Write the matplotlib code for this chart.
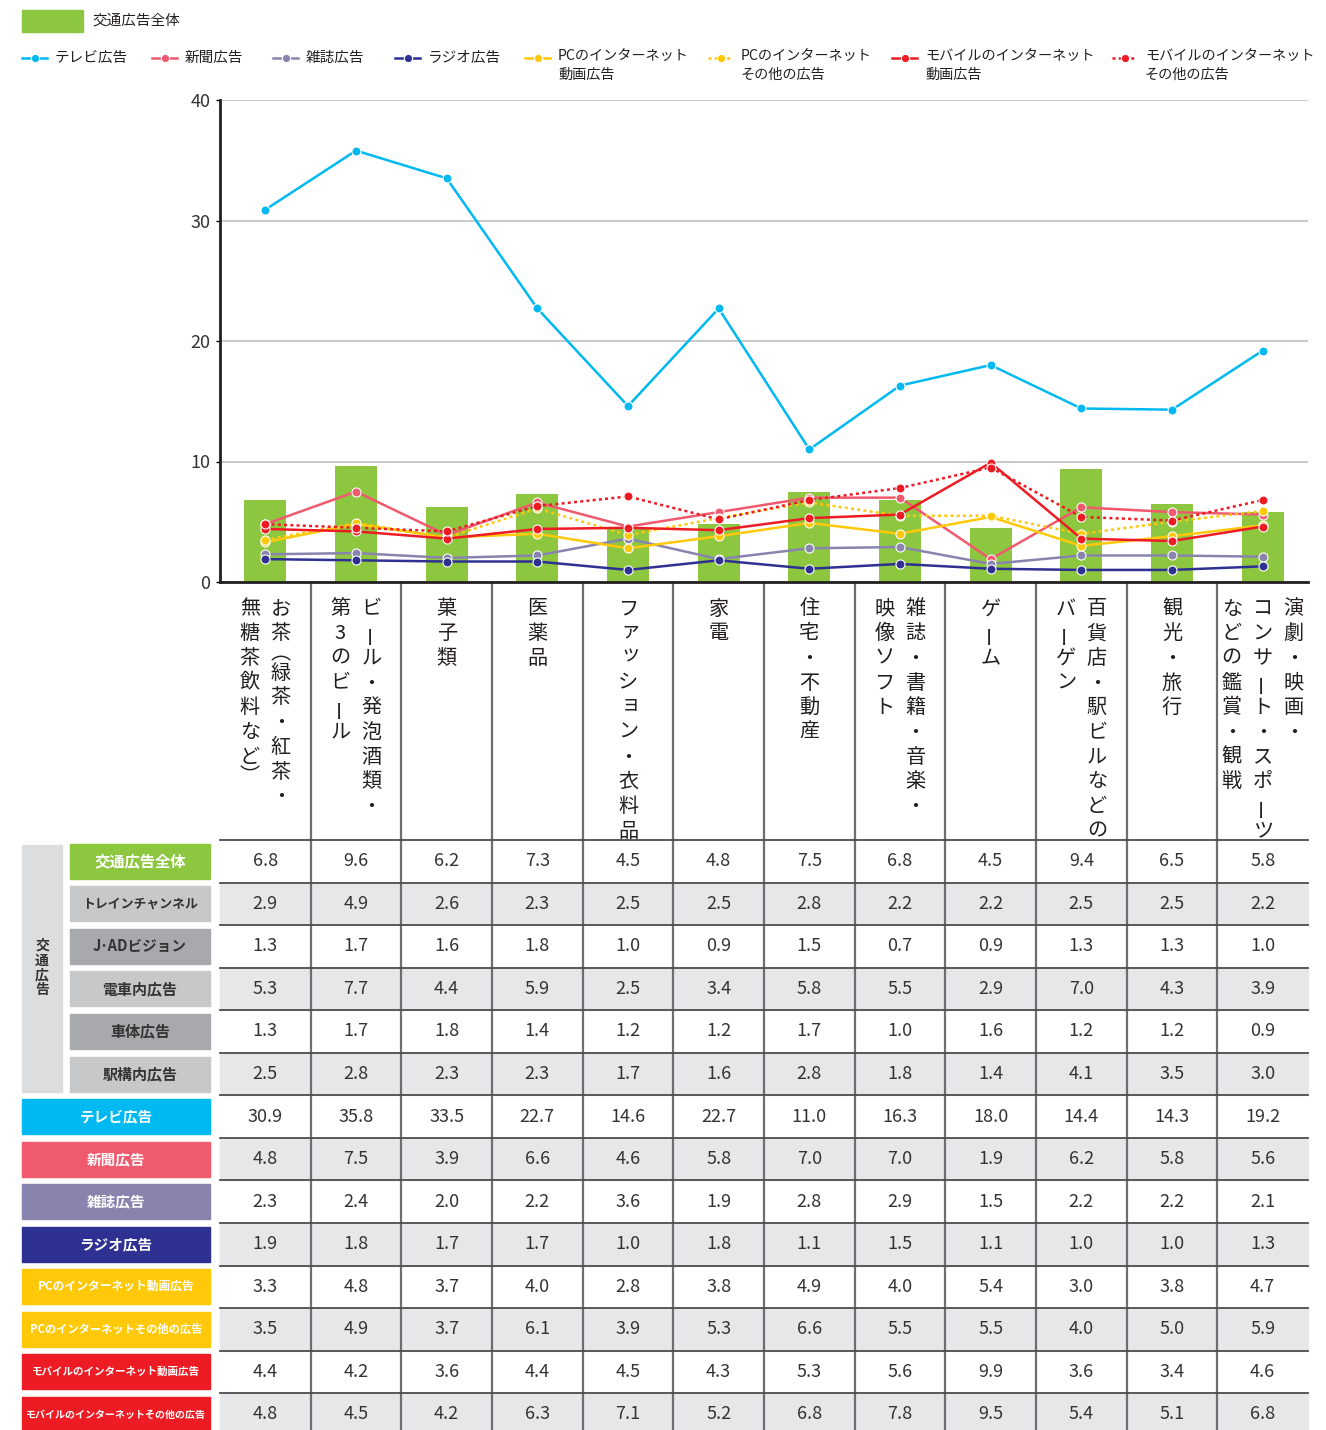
import matplotlib
matplotlib.use("Agg")
import matplotlib.pyplot as plt
import matplotlib.transforms as mtransforms
from matplotlib.lines import Line2D
from matplotlib.patches import Rectangle

plt.rcParams['font.family'] = ['Noto Sans CJK JP', 'DejaVu Sans']

W, H, DPI = 1326, 1430, 100

cat_labels = [
    ["お茶（緑茶・紅茶・", "無糖茶飲料など）"],
    ["ビール・発泡酒類・", "第3のビール"],
    ["菓子類"],
    ["医薬品"],
    ["ファッション・衣料品"],
    ["家電"],
    ["住宅・不動産"],
    ["雑誌・書籍・音楽・", "映像ソフト"],
    ["ゲーム"],
    ["百貨店・駅ビルなどの", "バーゲン"],
    ["観光・旅行"],
    ["演劇・映画・", "コンサート・スポーツ", "などの鑑賞・観戦"],
]

traffic_total = [6.8, 9.6, 6.2, 7.3, 4.5, 4.8, 7.5, 6.8, 4.5, 9.4, 6.5, 5.8]
train_channel = [2.9, 4.9, 2.6, 2.3, 2.5, 2.5, 2.8, 2.2, 2.2, 2.5, 2.5, 2.2]
jad_vision    = [1.3, 1.7, 1.6, 1.8, 1.0, 0.9, 1.5, 0.7, 0.9, 1.3, 1.3, 1.0]
in_train      = [5.3, 7.7, 4.4, 5.9, 2.5, 3.4, 5.8, 5.5, 2.9, 7.0, 4.3, 3.9]
car_body      = [1.3, 1.7, 1.8, 1.4, 1.2, 1.2, 1.7, 1.0, 1.6, 1.2, 1.2, 0.9]
in_station    = [2.5, 2.8, 2.3, 2.3, 1.7, 1.6, 2.8, 1.8, 1.4, 4.1, 3.5, 3.0]
tv            = [30.9, 35.8, 33.5, 22.7, 14.6, 22.7, 11.0, 16.3, 18.0, 14.4, 14.3, 19.2]
newspaper     = [4.8, 7.5, 3.9, 6.6, 4.6, 5.8, 7.0, 7.0, 1.9, 6.2, 5.8, 5.6]
magazine      = [2.3, 2.4, 2.0, 2.2, 3.6, 1.9, 2.8, 2.9, 1.5, 2.2, 2.2, 2.1]
radio         = [1.9, 1.8, 1.7, 1.7, 1.0, 1.8, 1.1, 1.5, 1.1, 1.0, 1.0, 1.3]
pc_video      = [3.3, 4.8, 3.7, 4.0, 2.8, 3.8, 4.9, 4.0, 5.4, 3.0, 3.8, 4.7]
pc_other      = [3.5, 4.9, 3.7, 6.1, 3.9, 5.3, 6.6, 5.5, 5.5, 4.0, 5.0, 5.9]
mobile_video  = [4.4, 4.2, 3.6, 4.4, 4.5, 4.3, 5.3, 5.6, 9.9, 3.6, 3.4, 4.6]
mobile_other  = [4.8, 4.5, 4.2, 6.3, 7.1, 5.2, 6.8, 7.8, 9.5, 5.4, 5.1, 6.8]

GREEN = '#8dc63f'
DOT = (0, (1.2, 1.3))

# name, values, color, linestyle
series = [
    ("テレビ広告", tv, '#00b9f1', '-'),
    ("新聞広告", newspaper, '#f05a6e', '-'),
    ("雑誌広告", magazine, '#8884ae', '-'),
    ("ラジオ広告", radio, '#2e3192', '-'),
    ("PCのインターネット動画広告", pc_video, '#ffc90a', '-'),
    ("PCのインターネットその他の広告", pc_other, '#ffc90a', DOT),
    ("モバイルのインターネット動画広告", mobile_video, '#ed1c24', '-'),
    ("モバイルのインターネットその他の広告", mobile_other, '#ed1c24', DOT),
]

table_rows = [
    ("交通広告全体", traffic_total),
    ("トレインチャンネル", train_channel),
    ("J･ADビジョン", jad_vision),
    ("電車内広告", in_train),
    ("車体広告", car_body),
    ("駅構内広告", in_station),
] + [(s[0], s[1]) for s in series]

box_colors = [GREEN, '#c7c8ca', '#a7a9ac', '#c7c8ca', '#a7a9ac', '#c7c8ca',
              '#00b9f1', '#f05a6e', '#8884ae', '#2e3192', '#ffc90a', '#ffc90a',
              '#ed1c24', '#ed1c24']
box_fs = [11, 9.3, 10.5, 10.8, 10.8, 10.8, 10.5, 10.5, 10.5, 10.5, 8.5, 8.1, 7.6, 7.2]

# ---- figure ----
fig = plt.figure(figsize=(W / DPI, H / DPI), dpi=DPI)
ov = fig.add_axes([0, 0, 1, 1])
ov.set_xlim(0, W)
ov.set_ylim(H, 0)
ov.axis('off')

ax = fig.add_axes([220 / W, 1 - 582 / H, 1088 / W, 482 / H])
x = list(range(len(traffic_total)))
ax.bar(x, traffic_total, width=0.46, color=GREEN, zorder=2)
for name, vals, col, ls in series:
    ax.plot(x, vals, color=col, ls=ls, lw=1.8, marker='o', ms=6.5,
            mfc=col, mec='white', mew=0.8, zorder=3)

ax.set_xlim(-0.5, 11.5)
ax.set_ylim(0, 40)
ax.set_yticks([0, 10, 20, 30, 40])
ax.set_xticks([])
ax.tick_params(axis='y', labelsize=13, labelcolor='#333333', length=3, width=1, pad=4)
ax.yaxis.grid(True, color='#c4c4c4', lw=1.3)
ax.set_axisbelow(True)
for s in ['top', 'right']:
    ax.spines[s].set_visible(False)
for s in ['left', 'bottom']:
    ax.spines[s].set_linewidth(2)
    ax.spines[s].set_color('#231f20')

trans = mtransforms.blended_transform_factory(ax.transData, ov.transData)
trans_ax = mtransforms.blended_transform_factory(ax.transAxes, ov.transData)

# ---- column separators ----
for b in range(len(x) - 1):
    ov.add_line(Line2D([b + 0.5, b + 0.5], [583, H], transform=trans,
                       color='#6d6e71', lw=1.6))

# ---- vertical category labels ----
small_kana = set("ァィゥェォッャュョ")
vert_forms = {"（": "︵", "）": "︶"}
col_step = 0.342
STEP = 24.7
for i, lines in enumerate(cat_labels):
    n = len(lines)
    for j, line in enumerate(lines):
        cx = i + ((n - 1) / 2 - j) * col_step
        y = 609
        for ch in line:
            if ch in vert_forms:
                ov.text(cx, y - STEP * 0.2, vert_forms[ch], transform=trans,
                        ha='center', va='center', fontsize=14.5, color='#231f20')
                y += STEP * 0.6
                continue
            dx, dy = 0, 0
            if ch in small_kana:
                dx, dy = 0.03, -3
            ov.text(cx + dx, y + dy, ch, transform=trans,
                    rotation=90 if ch == "ー" else 0,
                    ha='center', va='center', fontsize=14.5, color='#231f20')
            y += STEP

# ---- table ----
ROW_TOP, ROW_H = 840, 42.55
for r, (name, vals) in enumerate(table_rows):
    top = ROW_TOP + r * ROW_H
    yc = top + ROW_H / 2
    if r % 2 == 1:
        ov.add_patch(Rectangle((0, top), 1, ROW_H, transform=trans_ax,
                               color='#e6e7e8', zorder=0))
    ov.add_line(Line2D([0, 1], [top, top], transform=trans_ax, color='#4d4d4d', lw=1.3))
    for i, v in enumerate(vals):
        ov.text(i, yc, f"{v:.1f}", transform=trans, ha='center', va='center',
                fontsize=13, color='#333333')
    # row label box
    x0 = 70 if r <= 5 else 22
    ov.add_patch(Rectangle((x0, yc - 17.5), 210 - x0, 35, color=box_colors[r]))
    tc = '#333333' if 1 <= r <= 5 else 'white'
    ov.text((x0 + 210) / 2, yc, name, ha='center', va='center',
            fontsize=box_fs[r], fontweight='bold', color=tc)

# group label for transport ads
ov.add_patch(Rectangle((22, 845), 40, 247, color='#dcdddf'))
for k, ch in enumerate("交通広告"):
    ov.text(42, 946 + k * 14.8, ch, ha='center', va='center', fontsize=10,
            fontweight='bold', color='#333333')

# ---- legend ----
ov.add_patch(Rectangle((22, 10), 61, 22, color=GREEN))
ov.text(92, 21, "交通広告全体", ha='left', va='center', fontsize=10.5, color='#231f20')
leg_x = [22, 152, 273, 395, 525, 708, 892, 1112]
for (name, vals, col, ls), lx in zip(series, leg_x):
    ov.add_line(Line2D([lx, lx + 25], [58, 58], color=col, ls=ls, lw=1.8))
    ov.add_line(Line2D([lx + 12.5], [58], color=col, marker='o', ms=6,
                       mec='white', mew=0.8))
    lines = name.replace("ネット", "ネット\n", 1).split("\n")
    if len(lines) == 1 or lines[1] == "":
        ov.text(lx + 33, 58, lines[0], ha='left', va='center', fontsize=10.5, color='#231f20')
    else:
        ov.text(lx + 33, 56, lines[0], ha='left', va='center', fontsize=10.2, color='#231f20')
        ov.text(lx + 33, 75, lines[1], ha='left', va='center', fontsize=10.2, color='#231f20')

fig.savefig("out.png", dpi=DPI)
